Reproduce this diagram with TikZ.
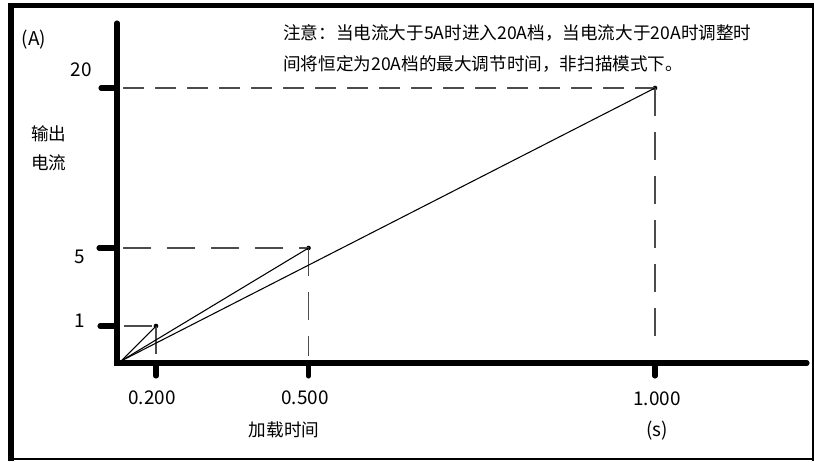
\documentclass[tikz,border=0pt]{standalone}
\usepackage{fontspec}
\setmainfont{Noto Sans CJK SC}
\begin{document}
\begin{tikzpicture}[x=0.75pt,y=-0.75pt,
  axis/.style={line width=3.8pt, line cap=round},
  tickmark/.style={line width=3.8pt, line cap=round},
  guidea/.style={draw=black!70, line width=1pt, dash pattern=on 16pt off 8pt},
  guideb/.style={draw=black!70, line width=1pt, dash pattern=on 21pt off 12pt},
  ray/.style={line width=0.8pt},
  dot/.style={circle, fill, inner sep=0pt, minimum size=3.5pt},
  lbl/.style={font=\fontsize{13.2}{15}\selectfont, inner sep=0pt},
  num/.style={font=\fontsize{14.2}{16}\selectfont, inner sep=0pt}
]
\useasboundingbox (0,0) rectangle (814,461);
% frame
\fill (8,3) rectangle (814,8);
\fill (8,3) rectangle (14,461);
\fill (811.5,3) rectangle (813.5,461);
\fill (8,458) rectangle (814,460);
% axes
\coordinate (O) at (117,363);
\coordinate (ytop) at (117,23);
\coordinate (xend) at (807,363);
\draw[axis] (ytop) -- (O) -- (xend);
% y ticks
\coordinate (t20a) at (101,88);  \coordinate (t20b) at (117,88);
\coordinate (t5a) at (99,248);   \coordinate (t5b) at (117,248);
\coordinate (t1a) at (100,326);  \coordinate (t1b) at (117,326);
\draw[tickmark] (t20a) -- (t20b);
\draw[tickmark] (t5a) -- (t5b);
\draw[tickmark] (t1a) -- (t1b);
% x ticks
\coordinate (x1a) at (156,363);   \coordinate (x1b) at (156,376);
\coordinate (x2a) at (308.5,363); \coordinate (x2b) at (308.5,376);
\coordinate (x3a) at (655,363);   \coordinate (x3b) at (655,376);
\draw[tickmark] (x1a) -- (x1b);
\draw[tickmark] (x2a) -- (x2b);
\draw[tickmark] (x3a) -- (x3b);
% points
\node[dot] (p1) at (156,326) {};
\node[dot] (p2) at (308.5,248) {};
\node[dot] (p3) at (655,88) {};
\coordinate (S) at (121,361);
% guide lines
\coordinate (h20) at (123,88);  \coordinate (v20) at (655,350);
\coordinate (h5) at (123,248);  \coordinate (v5) at (308.5,356);
\coordinate (h1) at (124,326);  \coordinate (v1) at (156,355);
\draw[guidea] (h20) -- (p3.center);
\draw[guideb] (p3.center) -- (v20);
\draw[guideb] (h5) -- (p2.center);
\draw[guideb] (p2.center) -- (v5);
\draw[guideb] (h1) -- (p1.center);
\draw[guideb] (p1.center) -- (v1);
% rays
\draw[ray] (S) -- (p1.center);
\draw[ray] (S) -- (p2.center);
\draw[ray] (S) -- (p3.center);
% labels
\node[num] (A) at (34,40) {(A)};
\node[num] (l20) at (81,70) {20};
\node[lbl] (ylab1) at (49,134) {输出};
\node[lbl] (ylab2) at (49,163) {电流};
\node[num] (l5) at (80,257) {5};
\node[num] (l1) at (80,321) {1};
\node[num] (x02) at (152,398) {0.200};
\node[num] (x05) at (305,398) {0.500};
\node[num] (x10) at (657,399) {1.000};
\node[lbl] (xlab) at (284,430) {加载时间};
\node[num] (unit) at (657,431) {(s)};
\node[lbl, anchor=west] (note1) at (283,33) {注意：当电流大于5A时进入20A档，当电流大于20A时调整时};
\node[lbl, anchor=west] (note2) at (283,64) {间将恒定为20A档的最大调节时间，非扫描模式下。};
\end{tikzpicture}
\end{document}
